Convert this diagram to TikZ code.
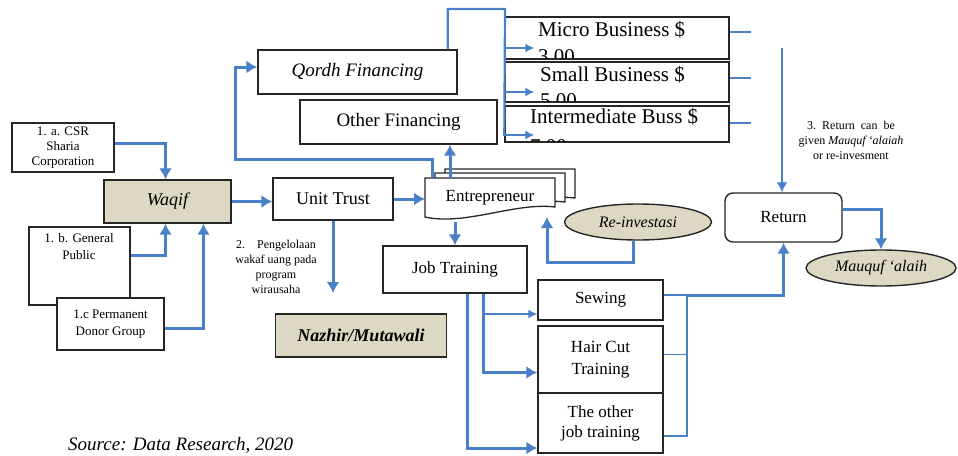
\documentclass[tikz,border=0pt]{standalone}
\usepackage{fontspec}
\setmainfont{Liberation Serif}
\usetikzlibrary{positioning,shapes,arrows.meta}
\definecolor{flowblue}{RGB}{74,128,200}
\definecolor{tanfill}{RGB}{221,216,195}
\newcommand{\fsz}[2]{\fontsize{#1}{#2}\selectfont}
\tikzset{docsheet/.pic={\draw[fill=white,draw=black!85,line width=1.3pt] (0,0) -- (130,0) -- (130,29) .. controls (90,24) and (40,48) .. (0,39) -- cycle;}}

\begin{document}
\begin{tikzpicture}[x=1pt,y=-1pt,
  box/.style={draw=black!85,line width=1.4pt,fill=white,inner sep=0pt,align=center,font=\fsz{17}{21}},
  tanbox/.style={box,fill=tanfill},
  oval/.style={draw=black!85,line width=1.4pt,fill=tanfill,ellipse,inner sep=0pt,font=\fsz{16}{19}\itshape},
  note/.style={align=center,inner sep=0pt,font=\fsz{12}{15}},
  biztext/.style={align=left,inner sep=0pt,anchor=north west,font=\fsz{21}{27}},
  flow/.style={draw=flowblue,line width=3pt,-{Latex[length=11pt,width=13pt]}},
  midflow/.style={draw=flowblue,line width=2pt,-{Latex[length=10pt,width=11pt]}},
  thinflow/.style={draw=flowblue,line width=1.5pt,-{Latex[length=9pt,width=9pt]}},
  thinline/.style={draw=flowblue,line width=1.5pt}
  ]
  \useasboundingbox (0,0) rectangle (958,455);

  % waqf sources
  \node[box,minimum width=102pt,minimum height=49pt,font=\fsz{13}{15}] (csr) at (63,147.5) {1. a. CSR\\Sharia\\Corporation};
  \node[tanbox,minimum width=127pt,minimum height=43pt,font=\fsz{18}{21}\itshape] (waqif) at (167.5,201.5) {Waqif};
  \node[box,minimum width=101pt,minimum height=78pt] (genpub) at (79.5,266) {};
  \node[note,font=\fsz{13}{17}] (genpubtxt) at (79,247) {1. b. General\\Public};
  \node[box,minimum width=107pt,minimum height=52pt,font=\fsz{13}{17}] (donor) at (110.5,324) {1.c Permanent\\Donor Group};

  \node[box,minimum width=120pt,minimum height=42pt,font=\fsz{18}{21}] (unit) at (333,199) {Unit Trust};
  \node[note] (unitnote) at (276,267) {2.\quad Pengelolaan\\wakaf uang pada\\program\\wirausaha};
  \node[tanbox,minimum width=171pt,minimum height=43pt,font=\fsz{18}{21}\bfseries\itshape] (nazhir) at (361,335.5) {Nazhir/Mutawali};
  \coordinate (unitend) at (334,293);

  % financing
  \node[box,minimum width=199pt,minimum height=44pt,font=\fsz{19}{22}\itshape] (qordh) at (357.5,72) {Qordh Financing};
  \node[box,minimum width=197pt,minimum height=44pt,font=\fsz{19}{22}] (other) at (398.5,122) {Other Financing};

  % businesses
  \node[box,minimum width=224pt,minimum height=42pt] (micro) at (617,38) {};
  \begin{scope}
    \clip ([shift={(1.5pt,1.5pt)}]micro.south west) rectangle ([shift={(-1.5pt,-1.5pt)}]micro.north east);
    \node[biztext] (microtxt) at (538,21.5) {Micro Business \$\\3.00};
  \end{scope}
  \node[box,minimum width=224pt,minimum height=40pt] (small) at (617,82) {};
  \begin{scope}
    \clip ([shift={(1.5pt,1.5pt)}]small.south west) rectangle ([shift={(-1.5pt,-1.5pt)}]small.north east);
    \node[biztext,font=\fsz{21}{26}] (smalltxt) at (540,66.5) {Small Business \$\\5.00};
  \end{scope}
  \node[box,minimum width=224pt,minimum height=36pt] (inter) at (617,124) {};
  \begin{scope}
    \clip ([shift={(1.5pt,1.5pt)}]inter.south west) rectangle ([shift={(-1.5pt,-1.5pt)}]inter.north east);
    \node[biztext,font=\fsz{21}{30}] (intertxt) at (530,108.5) {Intermediate Buss \$\\7.00};
  \end{scope}
  \coordinate (bizfork) at (505,9);
  \coordinate (retin) at (782,48);

  % entrepreneur
  \foreach \dx/\dy in {20/-9,10/-5,0/0}
    \pic at (425+\dx,178+\dy) {docsheet};
  \node[minimum width=130pt,minimum height=39pt,inner sep=0pt,outer sep=0pt,font=\fsz{17}{20}] (entre) at (490,197.5) {Entrepreneur};
  \node[oval,minimum width=147pt,minimum height=36pt] (reinv) at (638,222) {Re-investasi};

  % training
  \node[box,minimum width=144pt,minimum height=47pt] (jobtr) at (455,269.5) {Job Training};
  \node[box,minimum width=125pt,minimum height=40pt] (sewing) at (600.5,300) {Sewing};
  \node[box,minimum width=125pt,minimum height=67pt,font=\fsz{17}{22}] (haircut) at (600.5,359.5) {Hair Cut\\Training};
  \node[box,minimum width=125pt,minimum height=60pt,font=\fsz{17}{20}] (othertr) at (600.5,423) {The other\\job training};
  \coordinate (jfork) at ([xshift=28pt]jobtr.south);
  \coordinate (tfork) at (687,295);

  % return
  \node[box,rounded corners=8pt,minimum width=117pt,minimum height=49pt] (return) at (783.5,217.5) {Return};
  \node[note] (retnote) at (851,140) {3.\ \ Return\ \ can\ \ be\\given \textit{Mauquf ‘alaiah}\\or re-invesment};
  \node[oval,minimum width=150pt,minimum height=36pt] (mauquf) at (881,268) {Mauquf ‘alaih};

  \node[anchor=base west,inner sep=0pt,font=\fsz{19}{22}\itshape] (source) at (68,450) {Source: Data Research, 2020};

  % connectors
  \draw[flow] ([yshift=4pt]csr.east) -| ([xshift=-2pt]waqif.north);
  \draw[flow] ([yshift=11pt]genpub.east) -| ([xshift=-2pt]waqif.south);
  \draw[flow] ([yshift=-4pt]donor.east) -| ([xshift=36pt]waqif.south);
  \draw[flow] (waqif.east) -- (waqif.east -| unit.west);
  \draw[flow] (unit.east) -- (unit.east -| entre.west);
  \draw[flow] (unit.south) -- (unit.south |- unitend);
  \draw[flow] ([xshift=25pt]entre.north west) -- ([xshift=25pt]entre.north west |- other.south);
  \draw[flow] ([xshift=7pt]entre.north west) -- ++(0,-19) -| ([xshift=-22pt,yshift=5pt]qordh.west) -- ([yshift=5pt]qordh.west);
  \draw[draw=flowblue,line width=2.2pt] ([xshift=-10pt]qordh.north east) |- (bizfork) -- ([yshift=-12pt]inter.west);
  \draw[thinflow] ([yshift=-10pt]micro.west) -- ++(30,0);
  \draw[thinflow] ([yshift=-10pt]small.west) -- ++(30,0);
  \draw[thinflow] ([yshift=-11pt]inter.west) -- ++(30,0);
  \draw[thinline] ([yshift=6pt]micro.east) -- ++(21,0);
  \draw[thinline] ([yshift=4pt]small.east) -- ++(21,0);
  \draw[thinline] ([yshift=1pt]inter.east) -- ++(21,0);
  \draw[midflow] (retin) -- (retin |- return.north);
  \draw[flow] ([yshift=8pt]return.east) -| (mauquf.north);
  \draw[flow] ([xshift=-5pt]reinv.south) -- ++(0,22) -| ([xshift=-8pt]entre.south east);
  \draw[flow] ([yshift=-5pt]jobtr.north |- entre.south) -- (jobtr.north);
  \draw[flow] ([xshift=12pt]jobtr.south) |- ([yshift=-25pt]othertr.west);
  \draw[flow] (jfork) |- ([yshift=-13pt]haircut.west);
  \draw[thinflow] ([yshift=-14pt]sewing.west -| jfork) -- ([yshift=-14pt]sewing.west);
  \draw[thinline] ([yshift=5pt]sewing.east) -| ([yshift=-13pt]othertr.east -| tfork) -- ([yshift=-13pt]othertr.east);
  \draw[thinline] ([yshift=5pt]haircut.east) -- ([yshift=5pt]haircut.east -| tfork);
  \draw[flow] (tfork) -| (return.south);
\end{tikzpicture}
\end{document}
